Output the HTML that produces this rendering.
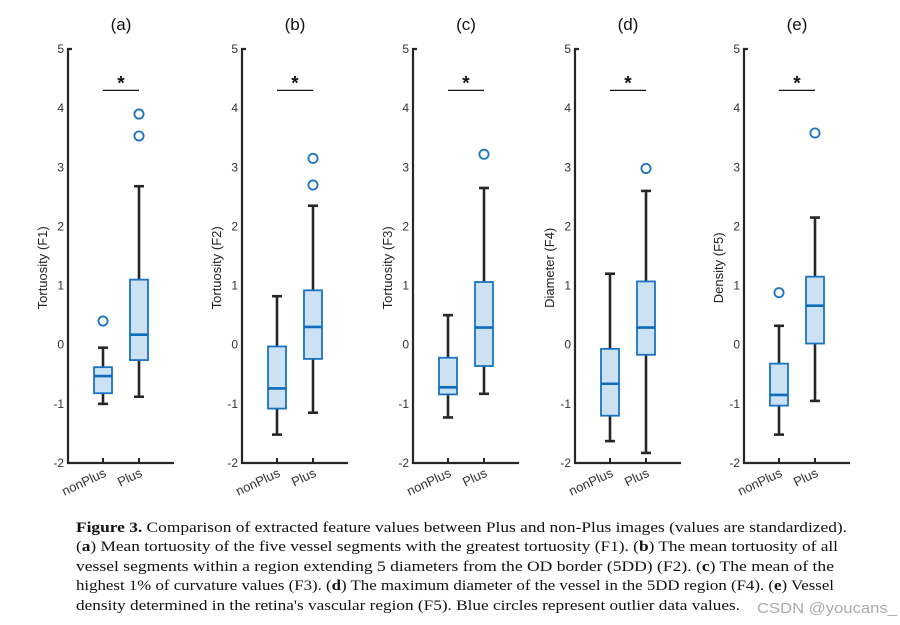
<!DOCTYPE html>
<html><head><meta charset="utf-8"><style>
body{margin:0;background:#fff}
svg{display:block}
</style></head><body>
<svg id="fig" width="900" height="625" viewBox="0 0 900 625" xmlns="http://www.w3.org/2000/svg" font-family="Liberation Sans, sans-serif">
<g id="panels"></g>
<g font-family="Liberation Serif, serif" font-size="15" fill="#111">
<text x="76" y="532" textLength="771" lengthAdjust="spacingAndGlyphs"><tspan font-weight="bold">Figure 3.</tspan>  Comparison of extracted feature values between Plus and non-Plus images (values are standardized).</text>
<text x="76" y="551" textLength="762" lengthAdjust="spacingAndGlyphs">(<tspan font-weight="bold">a</tspan>) Mean tortuosity of the five vessel segments with the greatest tortuosity (F1). (<tspan font-weight="bold">b</tspan>) The mean tortuosity of all</text>
<text x="76" y="571" textLength="758" lengthAdjust="spacingAndGlyphs">vessel segments within a region extending 5 diameters from the OD border (5DD) (F2). (<tspan font-weight="bold">c</tspan>) The mean of the</text>
<text x="76" y="590" textLength="758" lengthAdjust="spacingAndGlyphs">highest 1% of curvature values (F3). (<tspan font-weight="bold">d</tspan>) The maximum diameter of the vessel in the 5DD region (F4). (<tspan font-weight="bold">e</tspan>) Vessel</text>
<text x="76" y="610" textLength="664" lengthAdjust="spacingAndGlyphs">density determined in the retina's vascular region (F5). Blue circles represent outlier data values.</text>
</g>
<text x="757" y="613" font-size="15" fill="#aaa" textLength="140" lengthAdjust="spacingAndGlyphs">CSDN @youcans_</text>
</svg>
<script>
const panelLabels = ['(a)','(b)','(c)','(d)','(e)'];
const axisTitles = ['Tortuosity (F1)','Tortuosity (F2)','Tortuosity (F3)','Diameter (F4)','Density (F5)'];
const categories = ['nonPlus','Plus'];
const yTicks = [5,4,3,2,1,0,-1,-2];
// [whiskerLow, q1, median, q3, whiskerHigh] per panel, per category
const nonPlusStats = [
  [-1.0,-0.82,-0.53,-0.38,-0.05],
  [-1.52,-1.08,-0.74,-0.03,0.82],
  [-1.23,-0.84,-0.72,-0.22,0.5],
  [-1.63,-1.2,-0.66,-0.07,1.2],
  [-1.52,-1.03,-0.85,-0.32,0.32]
];
const plusStats = [
  [-0.88,-0.26,0.17,1.1,2.68],
  [-1.15,-0.24,0.3,0.92,2.35],
  [-0.83,-0.36,0.29,1.06,2.65],
  [-1.83,-0.17,0.29,1.07,2.6],
  [-0.95,0.02,0.66,1.15,2.15]
];
const nonPlusOutliers = [[0.4],[],[],[],[0.88]];
const plusOutliers = [[3.9,3.53],[3.15,2.7],[3.22],[2.98],[3.58]];

const NS='http://www.w3.org/2000/svg';
const axisX=[68,242,413,575,744];
const y0=49,y1=463,yMax=5,yMin=-2;
function yScale(v){return y0+(yMax-v)/(yMax-yMin)*(y1-y0);}
function xScale(p,i){return axisX[p]+35+i*36;}
function mk(tag,attrs,parent){const e=document.createElementNS(NS,tag);for(const k in attrs)e.setAttribute(k,attrs[k]);parent.appendChild(e);return e;}
const root=document.getElementById('panels');
for(let p=0;p<5;p++){
  const g=mk('g',{},root);
  
  
  const ax=axisX[p];
  const t=mk('text',{x:ax+53,y:30,'font-size':17,'text-anchor':'middle',fill:'#111'},g);
  t.textContent=panelLabels[p];
  
  
  const axes=mk('path',{d:`M${ax+4},${y0}H${ax}V${y1}H${ax+106}`,stroke:'#262626','stroke-width':2.2,fill:'none'},g);
  
  
  yTicks.forEach(v=>{
    const lb=mk('text',{x:ax-4,y:yScale(v)+4,'font-size':12,'text-anchor':'end',fill:'#333'},g);
    lb.textContent=v;
    
    
  });
  const yt=mk('text',{transform:`translate(${ax-21},${yScale(1.3)}) rotate(-90)`,'font-size':13,'text-anchor':'middle',fill:'#222'},g);
  yt.textContent=axisTitles[p];
  
  
  const sig=mk('line',{x1:xScale(p,0),x2:xScale(p,1),y1:yScale(4.3),y2:yScale(4.3),stroke:'#111','stroke-width':1.3},g);
  
  
  const st=mk('text',{x:(xScale(p,0)+xScale(p,1))/2,y:yScale(4.3)-1,'font-size':19,'font-weight':'bold','text-anchor':'middle',fill:'#111'},g);
  st.textContent='*';
  
  
  [nonPlusStats[p],plusStats[p]].forEach((s,i)=>{
    const cx=xScale(p,i);
    const tk=mk('line',{x1:cx,x2:cx,y1:y1,y2:y1-5,stroke:'#262626','stroke-width':2},g);
    
    
    const xl=mk('text',{transform:`translate(${cx+4},${y1+13}) rotate(-25)`,'font-size':13,'text-anchor':'end',fill:'#333'},g);
    xl.textContent=categories[i];
    
    
    const bg=mk('g',{},g);
    
    
    mk('line',{x1:cx,x2:cx,y1:yScale(s[0]),y2:yScale(s[1]),stroke:'#262626','stroke-width':2.6},bg);
    mk('line',{x1:cx,x2:cx,y1:yScale(s[3]),y2:yScale(s[4]),stroke:'#262626','stroke-width':2.6},bg);
    mk('line',{x1:cx-5,x2:cx+5,y1:yScale(s[0]),y2:yScale(s[0]),stroke:'#262626','stroke-width':2.6},bg);
    mk('line',{x1:cx-5,x2:cx+5,y1:yScale(s[4]),y2:yScale(s[4]),stroke:'#262626','stroke-width':2.6},bg);
    mk('rect',{x:cx-9,y:yScale(s[3]),width:18,height:yScale(s[1])-yScale(s[3]),fill:'#cce2f2',stroke:'#1a73c1','stroke-width':1.8},bg);
    mk('line',{x1:cx-9,x2:cx+9,y1:yScale(s[2]),y2:yScale(s[2]),stroke:'#0d6cbd','stroke-width':2.6},bg);
    const outs=i===0?nonPlusOutliers[p]:plusOutliers[p];
    outs.forEach(v=>{
      const c=mk('circle',{cx:cx,cy:yScale(v),r:4.6,fill:'none',stroke:'#1a73c1','stroke-width':1.8},g);
      
      
    });
  });
}
</script>
</body></html>
